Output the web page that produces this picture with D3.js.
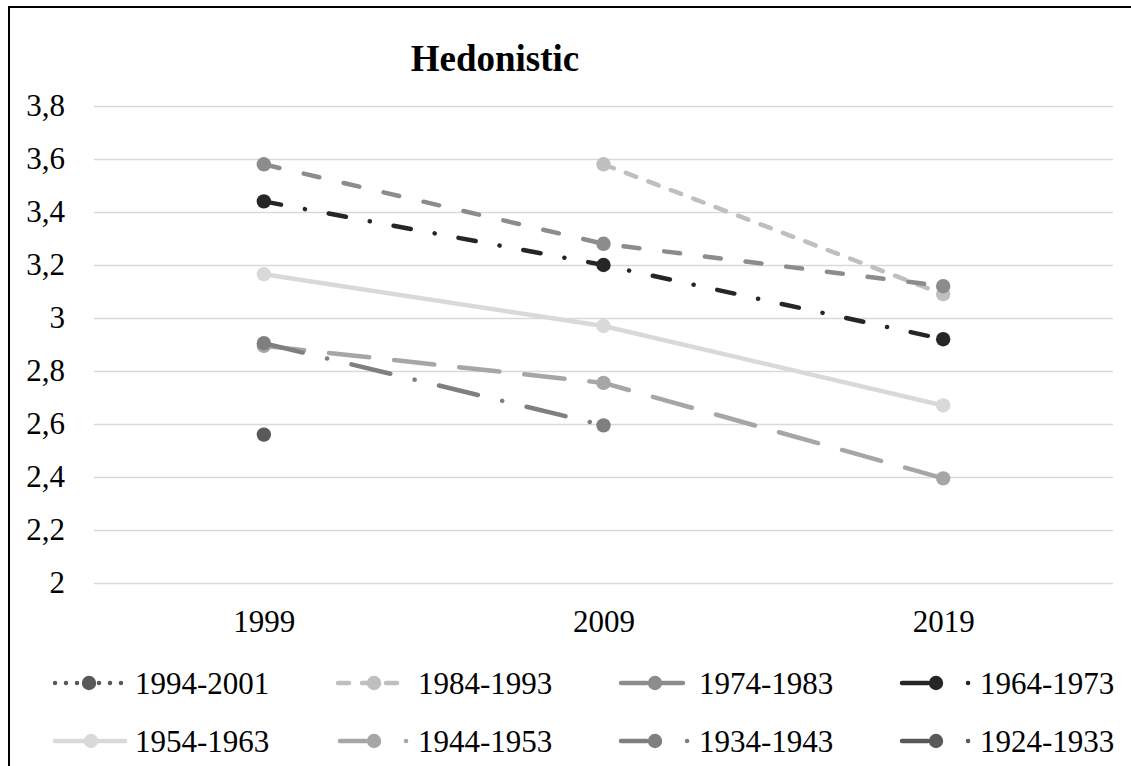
<!DOCTYPE html>
<html>
<head>
<meta charset="utf-8">
<script src="https://cdn.jsdelivr.net/npm/d3@7"></script>
<style>
  body { margin: 0; background: #fff; }
  svg { display: block; font-family: "Liberation Serif", "Times New Roman", serif; }
</style>
</head>
<body>
<svg></svg>
<script>
        // Chart data
        const years = ["1999", "2009", "2019"];
        const cohorts = ["1994-2001", "1984-1993", "1974-1983", "1964-1973", "1954-1963", "1944-1953", "1934-1943", "1924-1933"];
        const v1994 = [null, null, null];
        const v1984 = [null, 3.58, 3.09];
        const v1974 = [3.58, 3.28, 3.12];
        const v1964 = [3.44, 3.20, 2.92];
        const v1954 = [3.165, 2.97, 2.67];
        const v1944 = [2.895, 2.755, 2.395];
        const v1934 = [2.905, 2.595, null];
        const v1924 = [2.56, null, null];
        const yTicks = [2, 2.2, 2.4, 2.6, 2.8, 3, 3.2, 3.4, 3.6, 3.8];

        const seriesValues = [v1994, v1984, v1974, v1964, v1954, v1944, v1934, v1924];

        // Styles for each series
        const colors = ['#595959', '#bfbfbf', '#8c8c8c', '#262626', '#d9d9d9', '#a6a6a6', '#7f7f7f', '#595959'];
        const dashes = ['0,11', '11,13', '16,25', '17.5,24.25,0.1,24.15', null, '40.5,25', '40,25,0.1,25', '40,25,0.1,25'];
        const legendDashes = ['0,11', '11,13', '26,10,26,20', '26,40,0.1,100', null, '26,40,0.1,100', '26,40,0.1,100', '26,40,0.1,100'];

        const width = 1131;
        const height = 766;
        const plot = { left: 94, right: 1113, top: 106, bottom: 583 };
        const lineWidth = 4.5;
        const markerR = 7.2;

        const svg = d3.select("svg")
            .attr("width", width)
            .attr("height", height);

        // Outer frame (right and bottom edges fall off the picture)
        svg.append("rect")
            .attr("x", 9)
            .attr("y", 7)
            .attr("width", 1140)
            .attr("height", 800)
            .attr("fill", "none")
            .attr("stroke", "#000")
            .attr("stroke-width", 2);

        const x = d3.scalePoint()
            .domain(years)
            .range([plot.left, plot.right])
            .padding(0.5);

        const y = d3.scaleLinear()
            .domain([2, 3.8])
            .range([plot.bottom, plot.top]);

        const fmt = d => String(d).replace(".", ",");

        // Gridlines
        svg.append("g")
            .attr("transform", `translate(${plot.left},0)`)
            .call(d3.axisLeft(y).tickValues(yTicks).tickSize(-(plot.right - plot.left)).tickFormat(""))
            .call(g => g.select(".domain").remove())
            .call(g => g.selectAll(".tick line").attr("stroke", "#d9d9d9").attr("stroke-width", 1.5));

        // Y axis labels
        svg.append("g")
            .attr("transform", `translate(${plot.left},0)`)
            .call(d3.axisLeft(y).tickValues(yTicks).tickSize(0).tickPadding(29).tickFormat(fmt))
            .call(g => g.select(".domain").remove())
            .selectAll("text")
            .attr("fill", "#000")
            .style("font-family", "'Liberation Serif', 'Times New Roman', serif")
            .style("font-size", "31px");

        // X axis labels
        svg.append("g")
            .attr("transform", `translate(0,${plot.bottom})`)
            .call(d3.axisBottom(x).tickSize(0).tickPadding(27))
            .call(g => g.select(".domain").remove())
            .selectAll("text")
            .attr("fill", "#000")
            .style("font-family", "'Liberation Serif', 'Times New Roman', serif")
            .style("font-size", "31px");

        // Title
        svg.append("text")
            .attr("x", 495)
            .attr("y", 71)
            .attr("text-anchor", "middle")
            .style("font-size", "37px")
            .style("font-weight", "bold")
            .text("Hedonistic");

        const line = d3.line()
            .defined(d => d.value != null)
            .x(d => x(d.year))
            .y(d => y(d.value));

        // Draw each series: line then markers
        seriesValues.forEach((vals, i) => {
            const pts = vals.map((v, j) => ({ year: years[j], value: v }));
            const g = svg.append("g");
            g.append("path")
                .datum(pts)
                .attr("d", line)
                .attr("fill", "none")
                .attr("stroke", colors[i])
                .attr("stroke-width", lineWidth)
                .attr("stroke-linecap", "round")
                .attr("stroke-dasharray", dashes[i]);
            g.selectAll("circle")
                .data(pts.filter(d => d.value != null))
                .join("circle")
                .attr("cx", d => x(d.year))
                .attr("cy", d => y(d.value))
                .attr("r", markerR)
                .attr("fill", colors[i]);
        });

        // Legend
        const legendX = [55, 338, 619, 900];
        const legendY = [683, 741];
        const sampleLen = 70;
        const legend = svg.selectAll(".legend")
            .data(cohorts)
            .join("g")
            .attr("class", "legend")
            .attr("transform", (d, i) => `translate(${legendX[i % 4]},${legendY[Math.floor(i / 4)]})`);

        legend.append("line")
            .attr("x1", (d, i) => legendDashes[i] && legendDashes[i].startsWith("26") ? 2 : 0)
            .attr("x2", sampleLen)
            .attr("stroke", (d, i) => colors[i])
            .attr("stroke-width", lineWidth)
            .attr("stroke-linecap", "round")
            .attr("stroke-dasharray", (d, i) => legendDashes[i]);

        legend.append("circle")
            .attr("cx", (d, i) => i === 0 ? 34 : 36)
            .attr("r", markerR)
            .attr("fill", (d, i) => colors[i]);

        legend.append("text")
            .attr("x", 80)
            .attr("y", 10.5)
            .style("font-size", "31px")
            .text(d => d);
</script>
</body>
</html>
